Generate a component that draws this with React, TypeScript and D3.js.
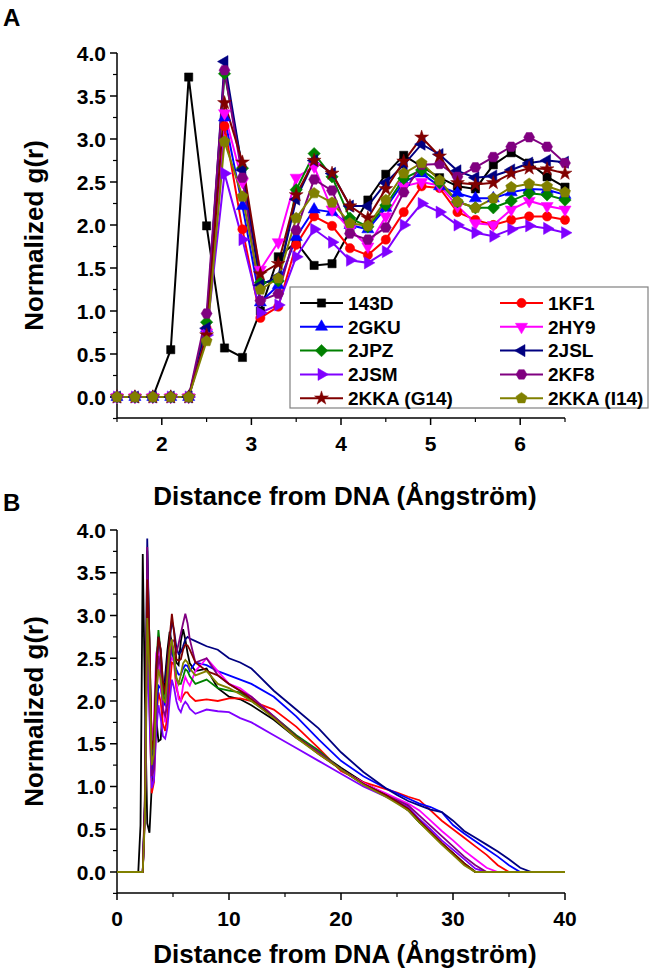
import React from "react";
import * as d3 from "d3";

// ---------- DATA ----------
const seriesNames = ["143D", "1KF1", "2GKU", "2HY9", "2JPZ", "2JSL", "2JSM", "2KF8", "2KKA (G14)", "2KKA (I14)"];
const seriesColors = ["#000000", "#ff0000", "#0000ff", "#ff00ff", "#008000", "#000080", "#8000ff", "#800080", "#800000", "#808000"];
const seriesMarkers = ["square", "circle", "triUp", "triDown", "diamond", "triLeft", "triRight", "hexagon", "star", "pentagon"];

// Panel A: r = 1.5 .. 6.5 step 0.2
const rA = [1.5, 1.7, 1.9, 2.1, 2.3, 2.5, 2.7, 2.9, 3.1, 3.3, 3.5, 3.7, 3.9, 4.1, 4.3, 4.5, 4.7, 4.9, 5.1, 5.3, 5.5, 5.7, 5.9, 6.1, 6.3, 6.5];
const g143D = [0, 0, 0, 0.55, 3.72, 1.99, 0.57, 0.46, 1.0, 1.63, 1.8, 1.53, 1.55, 1.93, 2.29, 2.59, 2.81, 2.68, 2.55, 2.45, 2.42, 2.7, 2.84, 2.72, 2.56, 2.44];
const g1KF1 = [0, 0, 0, 0, 0, 0.8, 3.15, 1.95, 0.92, 1.05, 1.77, 2.1, 1.99, 1.73, 1.65, 1.83, 2.15, 2.45, 2.43, 2.15, 2.06, 2.0, 2.06, 2.1, 2.1, 2.06];
const g2GKU = [0, 0, 0, 0, 0, 0.8, 3.25, 2.22, 1.1, 1.3, 1.86, 2.18, 2.15, 2.0, 1.95, 2.2, 2.5, 2.6, 2.45, 2.37, 2.31, 2.31, 2.38, 2.42, 2.41, 2.35];
const g2HY9 = [0, 0, 0, 0, 0, 0.75, 3.3, 2.5, 1.48, 1.8, 2.55, 2.68, 2.18, 1.95, 1.75, 2.1, 2.45, 2.5, 2.46, 2.22, 2.02, 2.0, 2.18, 2.28, 2.22, 2.18];
const g2JPZ = [0, 0, 0, 0, 0, 0.87, 3.76, 2.66, 1.33, 1.35, 2.41, 2.83, 2.56, 2.08, 1.98, 2.23, 2.54, 2.64, 2.49, 2.27, 2.2, 2.2, 2.28, 2.37, 2.35, 2.29];
const g2JSL = [0, 0, 0, 0, 0, 0.8, 3.9, 2.64, 1.3, 1.4, 2.3, 2.75, 2.6, 2.22, 2.22, 2.49, 2.7, 2.94, 2.82, 2.63, 2.55, 2.57, 2.64, 2.72, 2.75, 2.73];
const g2JSM = [0, 0, 0, 0, 0, 0.72, 2.6, 1.83, 0.98, 1.07, 1.63, 1.95, 1.8, 1.59, 1.56, 1.69, 2.0, 2.25, 2.15, 2.0, 1.91, 1.87, 1.95, 1.99, 1.96, 1.91];
const g2KF8 = [0, 0, 0, 0, 0, 0.97, 3.8, 2.55, 1.12, 1.2, 1.94, 2.53, 2.4, 1.9, 1.83, 1.97, 2.38, 2.7, 2.71, 2.56, 2.67, 2.79, 2.91, 3.02, 2.91, 2.72];
const g2KKAG14 = [0, 0, 0, 0, 0, 0.72, 3.42, 2.73, 1.43, 1.55, 2.35, 2.75, 2.6, 2.22, 2.08, 2.42, 2.74, 3.02, 2.8, 2.49, 2.47, 2.49, 2.6, 2.66, 2.65, 2.6];
const g2KKAI14 = [0, 0, 0, 0, 0, 0.65, 2.97, 2.33, 1.25, 1.38, 2.08, 2.37, 2.26, 2.02, 1.99, 2.29, 2.6, 2.72, 2.52, 2.27, 2.2, 2.31, 2.44, 2.48, 2.45, 2.38];

// Panel B: the curves continue beyond 6.5 Å
const rTail = [7, 8, 9, 10, 11, 12, 14, 16, 18, 20, 22, 24, 25, 26, 27, 28, 29, 30, 31, 32, 33, 34, 35, 36, 37, 38, 40];
const t143D = [2.35, 2.38, 2.15, 2.05, 2.02, 1.95, 1.78, 1.57, 1.4, 1.22, 1.05, 0.9, 0.82, 0.72, 0.58, 0.47, 0.33, 0.22, 0.1, 0, 0, 0, 0, 0, 0, 0, 0];
const t1KF1 = [2.0, 2.02, 2.0, 2.03, 2.03, 2.0, 1.9, 1.7, 1.45, 1.18, 1.05, 0.97, 0.93, 0.88, 0.84, 0.72, 0.6, 0.5, 0.4, 0.3, 0.2, 0.08, 0, 0, 0, 0, 0];
const t2GKU = [2.45, 2.42, 2.35, 2.3, 2.25, 2.2, 2.05, 1.82, 1.55, 1.3, 1.12, 0.98, 0.92, 0.86, 0.8, 0.76, 0.7, 0.55, 0.45, 0.36, 0.27, 0.18, 0.08, 0, 0, 0, 0];
const t2HY9 = [2.35, 2.5, 2.35, 2.2, 2.15, 2.05, 1.82, 1.6, 1.4, 1.2, 1.04, 0.92, 0.86, 0.8, 0.72, 0.6, 0.48, 0.37, 0.25, 0.15, 0.05, 0, 0, 0, 0, 0, 0];
const t2JPZ = [2.2, 2.25, 2.15, 2.12, 2.1, 2.0, 1.82, 1.6, 1.42, 1.2, 1.03, 0.9, 0.82, 0.74, 0.58, 0.46, 0.33, 0.22, 0.1, 0, 0, 0, 0, 0, 0, 0, 0];
const t2JSL = [2.7, 2.64, 2.6, 2.5, 2.45, 2.38, 2.12, 1.9, 1.68, 1.4, 1.17, 0.98, 0.9, 0.83, 0.78, 0.73, 0.7, 0.6, 0.48, 0.4, 0.32, 0.24, 0.15, 0.05, 0, 0, 0];
const t2JSM = [1.85, 1.9, 1.88, 1.87, 1.8, 1.75, 1.6, 1.45, 1.3, 1.15, 1.0, 0.88, 0.82, 0.76, 0.62, 0.5, 0.37, 0.26, 0.15, 0.04, 0, 0, 0, 0, 0, 0, 0];
const t2KF8 = [2.45, 2.5, 2.3, 2.2, 2.12, 2.05, 1.82, 1.58, 1.4, 1.2, 1.03, 0.9, 0.84, 0.78, 0.66, 0.54, 0.42, 0.3, 0.18, 0.08, 0, 0, 0, 0, 0, 0, 0];
const t2KKAG14 = [2.45, 2.35, 2.3, 2.2, 2.12, 2.02, 1.8, 1.58, 1.38, 1.2, 1.03, 0.9, 0.82, 0.74, 0.6, 0.47, 0.34, 0.22, 0.1, 0, 0, 0, 0, 0, 0, 0, 0];
const t2KKAI14 = [2.3, 2.35, 2.2, 2.15, 2.08, 2.0, 1.8, 1.57, 1.38, 1.2, 1.02, 0.88, 0.8, 0.72, 0.58, 0.45, 0.32, 0.2, 0.08, 0, 0, 0, 0, 0, 0, 0, 0];

const gA = [g143D, g1KF1, g2GKU, g2HY9, g2JPZ, g2JSL, g2JSM, g2KF8, g2KKAG14, g2KKAI14];
const gTail = [t143D, t1KF1, t2GKU, t2HY9, t2JPZ, t2JSL, t2JSM, t2KF8, t2KKAG14, t2KKAI14];

const yTicks = [0, 0.5, 1, 1.5, 2, 2.5, 3, 3.5, 4];
const xTicksA = [2, 3, 4, 5, 6];
const xTicksB = [0, 10, 20, 30, 40];
const xLabel = "Distance from DNA (Ångström)";
const yLabel = "Normalized g(r)";

// ---------- LAYOUT ----------
const W = 650, H = 972;
const FONT = "'Liberation Sans', Arial, sans-serif";
const left = 117, right = 565;
const A = { top: 53, y0: 397, bottom: 418 };
const B = { top: 530, y0: 872, bottom: 893 };

const xA = d3.scaleLinear().domain([1.5, 6.5]).range([left, right]);
const yA = d3.scaleLinear().domain([0, 4]).range([A.y0, A.top]);
const xB = d3.scaleLinear().domain([0, 40]).range([left, right]);
const yB = d3.scaleLinear().domain([0, 4]).range([B.y0, B.top]);

function polyPath(n: number, r: number, rot: number) {
  const pts: [number, number][] = [];
  for (let i = 0; i < n; i++) {
    const a = rot + (i * 2 * Math.PI) / n;
    pts.push([r * Math.cos(a), r * Math.sin(a)]);
  }
  return "M" + pts.map((p) => p.join(",")).join("L") + "Z";
}

function markerPath(kind: string): string {
  const tri = d3.symbol(d3.symbolTriangle, 64)() as string;
  switch (kind) {
    case "square": return d3.symbol(d3.symbolSquare, 68)() as string;
    case "circle": return d3.symbol(d3.symbolCircle, 68)() as string;
    case "triUp": return tri;
    case "diamond": return polyPath(4, 6.2, -Math.PI / 2);
    case "hexagon": return polyPath(6, 5.5, 0);
    case "star": return d3.symbol(d3.symbolStar, 60)() as string;
    case "pentagon": return polyPath(5, 5.8, -Math.PI / 2);
    default: return tri;
  }
}
function markerRot(kind: string) {
  if (kind === "triDown") return 180;
  if (kind === "triLeft") return -90;
  if (kind === "triRight") return 90;
  return 0;
}

function Marker({ kind, x, y, color }: { kind: string; x: number; y: number; color: string }) {
  return (
    <path d={markerPath(kind)} transform={`translate(${x},${y}) rotate(${markerRot(kind)})`} fill={color} stroke={color} strokeWidth={0.5} />
  );
}

function YAxis({ y, top, bottom }: { y: d3.ScaleLinear<number, number>; top: number; bottom: number }) {
  const minor = d3.range(-0.25, 4.01, 0.25).filter((v) => Math.abs(v * 2 - Math.round(v * 2)) > 0.01);
  return (
    <g>
      <line x1={left} x2={left} y1={top} y2={bottom} stroke="#000" strokeWidth={1.5} />
      {yTicks.map((t) => (
        <g key={t}>
          <line x1={left - 7} x2={left} y1={y(t)} y2={y(t)} stroke="#000" strokeWidth={1.5} />
          <text x={left - 11} y={y(t)} dy="0.36em" textAnchor="end" fontSize={21} fontWeight="bold" fontFamily={FONT}>{t.toFixed(1)}</text>
        </g>
      ))}
      {minor.map((t) => (
        <line key={"m" + t} x1={left - 4} x2={left} y1={y(t)} y2={y(t)} stroke="#000" strokeWidth={1.2} />
      ))}
    </g>
  );
}

function XAxis({ x, ticks, minor, axisY }: { x: d3.ScaleLinear<number, number>; ticks: number[]; minor: number[]; axisY: number }) {
  return (
    <g>
      <line x1={left} x2={right} y1={axisY} y2={axisY} stroke="#000" strokeWidth={1.5} />
      {ticks.map((t) => (
        <g key={t}>
          <line x1={x(t)} x2={x(t)} y1={axisY} y2={axisY + 7} stroke="#000" strokeWidth={1.5} />
          <text x={x(t)} y={axisY + 33} textAnchor="middle" fontSize={21} fontWeight="bold" fontFamily={FONT}>{t}</text>
        </g>
      ))}
      {minor.map((t) => (
        <line key={"m" + t} x1={x(t)} x2={x(t)} y1={axisY} y2={axisY + 4} stroke="#000" strokeWidth={1.2} />
      ))}
    </g>
  );
}

export default function App() {
  const lineA = d3.line<[number, number]>().x((d) => xA(d[0])).y((d) => yA(d[1]));
  const lineB = d3.line<[number, number]>().x((d) => xB(d[0])).y((d) => yB(d[1]));

  const legX = 290, legY = 287, legW = 358, legH = 121;
  const rowY = (i: number) => legY + 16 + i * 23.8;
  const colX = [300, 500];

  return (
    <svg width={W} height={H} style={{ position: "absolute", left: 0, top: 0, background: "#fff" }}>
      <rect x={0} y={0} width={W} height={H} fill="#fff" />
      {/* Panel letters */}
      <text x={3} y={26} fontSize={24} fontWeight="bold" fontFamily={FONT}>A</text>
      <text x={3} y={511} fontSize={24} fontWeight="bold" fontFamily={FONT}>B</text>

      {/* ---------- Panel A ---------- */}
      <YAxis y={yA} top={A.top} bottom={A.bottom} />
      <XAxis x={xA} ticks={xTicksA} minor={[1.5, 2.5, 3.5, 4.5, 5.5, 6.5]} axisY={A.bottom} />
      <text transform={`translate(34,${(A.top + A.bottom) / 2}) rotate(-90)`} textAnchor="middle" dy="0.35em" fontSize={26} fontWeight="bold" fontFamily={FONT}>{yLabel}</text>
      <text x={(left + right) / 2 + 4} y={505} textAnchor="middle" fontSize={26} fontWeight="bold" fontFamily={FONT}>{xLabel}</text>

      {gA.map((vals, si) => (
        <path key={"la" + si} d={lineA(rA.map((r, i) => [r, vals[i]] as [number, number])) as string} fill="none" stroke={seriesColors[si]} strokeWidth={2} />
      ))}
      {gA.map((vals, si) => (
        <g key={"ma" + si}>
          {rA.map((r, i) => (
            <Marker key={i} kind={seriesMarkers[si]} x={xA(r)} y={yA(vals[i])} color={seriesColors[si]} />
          ))}
        </g>
      ))}

      {/* Legend */}
      <rect x={legX} y={legY} width={legW} height={legH} fill="#fff" stroke="#808080" strokeWidth={1.2} />
      {seriesNames.map((name, i) => {
        const col = i % 2;
        const row = Math.floor(i / 2);
        const x0 = colX[col];
        const y = rowY(row);
        return (
          <g key={"lg" + i}>
            <line x1={x0} x2={x0 + 43} y1={y} y2={y} stroke={seriesColors[i]} strokeWidth={2} />
            <Marker kind={seriesMarkers[i]} x={x0 + 21.5} y={y} color={seriesColors[i]} />
            <text x={x0 + 48} y={y} dy="0.36em" fontSize={19} fontWeight="bold" fontFamily={FONT}>{name}</text>
          </g>
        );
      })}

      {/* ---------- Panel B ---------- */}
      <YAxis y={yB} top={B.top} bottom={B.bottom} />
      <XAxis x={xB} ticks={xTicksB} minor={[5, 15, 25, 35]} axisY={B.bottom} />
      <text transform={`translate(34,${(B.top + B.bottom) / 2}) rotate(-90)`} textAnchor="middle" dy="0.35em" fontSize={26} fontWeight="bold" fontFamily={FONT}>{yLabel}</text>
      <text x={(left + right) / 2 + 4} y={963} textAnchor="middle" fontSize={26} fontWeight="bold" fontFamily={FONT}>{xLabel}</text>

      {gA.map((vals, si) => {
        const pts: [number, number][] = [[0, 0]];
        rA.forEach((r, i) => pts.push([r, vals[i]]));
        rTail.forEach((r, i) => pts.push([r, gTail[si][i]]));
        return <path key={"lb" + si} d={lineB(pts) as string} fill="none" stroke={seriesColors[si]} strokeWidth={1.8} />;
      })}
    </svg>
  );
}
